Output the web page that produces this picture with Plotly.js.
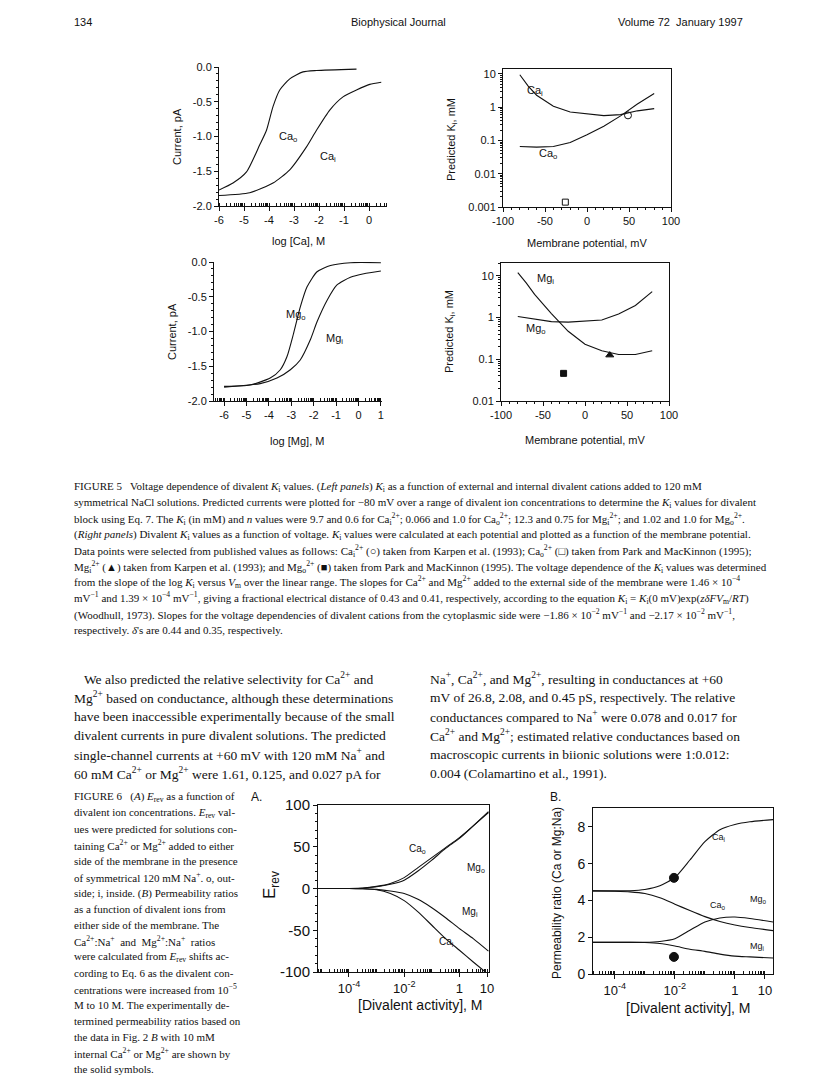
<!DOCTYPE html>
<html>
<head>
<meta charset="utf-8">
<script src="https://cdn.plot.ly/plotly-3.0.1.min.js"></script>
<style>
  html, body { margin: 0; padding: 0; background: #fff; }
  #page { width: 816px; height: 1078px; }
</style>
</head>
<body>
<div id="page"></div>
<script>
// ---- Figure 5, left panels: current vs log concentration ----
const caLogO = [-6, -5.44, -4.9, -4.37, -4.1, -3.84, -3.57, -3.17, -2.64, -2.1, -0.5];
const caCurO = [-1.77, -1.67, -1.51, -1.12, -0.91, -0.57, -0.33, -0.17, -0.07, -0.05, -0.03];
const caLogI = [-6, -4.77, -3.84, -3.17, -2.5, -2.1, -1.57, -1.04, -0.5, 0.03, 0.49];
const caCurI = [-1.85, -1.81, -1.67, -1.48, -1.15, -0.91, -0.62, -0.43, -0.33, -0.25, -0.22];

const mgLogO = [-6, -4.84, -3.94, -3.49, -3.19, -2.9, -2.6, -2.3, -1.85, -1.25, -0.36, 1.0];
const mgCurO = [-1.79, -1.77, -1.67, -1.55, -1.36, -1.03, -0.65, -0.36, -0.14, -0.05, -0.01, -0.01];
const mgLogI = [-6, -4.39, -3.64, -3.04, -2.6, -2.15, -1.85, -1.4, -0.96, -0.36, 0.24, 1.0];
const mgCurI = [-1.8, -1.75, -1.67, -1.55, -1.41, -1.12, -0.86, -0.55, -0.33, -0.22, -0.17, -0.13];

// ---- Figure 5, right panels: predicted Ki vs membrane potential ----
const potential = [-80, -70, -60, -40, -20, 0, 20, 40, 60, 80];
const caKiI = [9.5, 4.3, 2.3, 1.07, 0.72, 0.63, 0.56, 0.6, 0.78, 0.91];
const caKiO = [0.066, 0.064, 0.063, 0.066, 0.087, 0.15, 0.27, 0.55, 1.25, 2.6];
const mgKiI = [12, 6.8, 3.6, 1.25, 0.47, 0.23, 0.16, 0.13, 0.13, 0.16];
const mgKiO = [1.06, 0.98, 0.9, 0.8, 0.78, 0.82, 0.88, 1.22, 1.95, 4.2];
// published points
const caPtIx = [48.8], caPtIy = [0.57];     // open circle
const caPtOx = [-25.8], caPtOy = [0.0014];  // open square
const mgPtIx = [29.5], mgPtIy = [0.126];    // filled triangle
const mgPtOx = [-25.5], mgPtOy = [0.046];   // filled square

// ---- Figure 6A: Erev vs divalent activity (log10 M) ----
const actA = [-5.12, -4, -3.5, -3, -2.5, -2, -1.5, -1, -0.5, 0, 0.5, 1.05];
const erevCaO = [0, 0, 0.5, 2.5, 6, 13, 25, 37, 49, 61, 75, 92];
const erevMgO = [0, 0, 0.3, 2, 5, 10, 21, 34, 48, 60, 75, 91];
const erevMgI = [0, 0, -0.3, -1, -3, -6, -13, -23, -35, -48, -60, -75];
const erevCaI = [0, 0, -0.3, -1.5, -6, -14.5, -28, -44, -60, -74, -88, -103];

// ---- Figure 6B: permeability ratio vs divalent activity (log10 M) ----
const actB = [-4.73, -4, -3.5, -3, -2.5, -2, -1.5, -1, -0.5, 0, 0.5, 1.27];
const prCaI = [4.52, 4.52, 4.53, 4.6, 4.8, 5.25, 6.2, 7.2, 7.85, 8.13, 8.28, 8.4];
const prCaO = [4.52, 4.5, 4.47, 4.38, 4.15, 3.8, 3.45, 3.12, 2.86, 2.67, 2.53, 2.36];
const prMgO = [1.72, 1.72, 1.72, 1.72, 1.77, 1.92, 2.38, 2.83, 3.05, 3.1, 3.02, 2.83];
const prMgI = [1.72, 1.72, 1.72, 1.71, 1.66, 1.52, 1.35, 1.23, 1.08, 0.97, 0.93, 0.87];
const prPtX = [0.0093, 0.0093];
const prPtY = [5.23, 0.93];

// ---- tick labels ----
const logTicks = [1e-6, 1e-5, 1e-4, 1e-3, 1e-2, 1e-1, 1, 10];
const logLabels = ['-6', '-5', '-4', '-3', '-2', '-1', '0', '1'];
const currentTicks = [-2, -1.5, -1, -0.5, 0];
const currentLabels = ['-2.0', '-1.5', '-1.0', '-0.5', '0.0'];
const mvTicks = [-100, -50, 0, 50, 100];
const mvLabels = ['-100', '-50', '0', '50', '100'];
const activityTicks = [1e-4, 1e-2, 1, 10];
const activityLabels = ['10<sup>-4</sup>', '10<sup>-2</sup>', '1', '10'];

// ---- page text ----
const headerLeft = '134';
const headerMid = 'Biophysical Journal';
const headerRight = 'Volume 72  January 1997';

const KI = '<i>K</i><sub>i</sub>';
const fig5Caption = [
  'FIGURE 5   Voltage dependence of divalent ' + KI + ' values. (<i>Left panels</i>) ' + KI + ' as a function of external and internal divalent cations added to 120 mM',
  'symmetrical NaCl solutions. Predicted currents were plotted for −80 mV over a range of divalent ion concentrations to determine the ' + KI + ' values for divalent',
  'block using Eq. 7. The ' + KI + ' (in mM) and <i>n</i> values were 9.7 and 0.6 for Ca<sub>i</sub><sup>2+</sup>; 0.066 and 1.0 for Ca<sub>o</sub><sup>2+</sup>; 12.3 and 0.75 for Mg<sub>i</sub><sup>2+</sup>; and 1.02 and 1.0 for Mg<sub>o</sub><sup>2+</sup>.',
  '(<i>Right panels</i>) Divalent ' + KI + ' values as a function of voltage. ' + KI + ' values were calculated at each potential and plotted as a function of the membrane potential.',
  'Data points were selected from published values as follows: Ca<sub>i</sub><sup>2+</sup> (○) taken from Karpen et al. (1993); Ca<sub>o</sub><sup>2+</sup> (□) taken from Park and MacKinnon (1995);',
  'Mg<sub>i</sub><sup>2+</sup> (▲) taken from Karpen et al. (1993); and Mg<sub>o</sub><sup>2+</sup> (■) taken from Park and MacKinnon (1995). The voltage dependence of the ' + KI + ' values was determined',
  'from the slope of the log ' + KI + ' versus <i>V</i><sub>m</sub> over the linear range. The slopes for Ca<sup>2+</sup> and Mg<sup>2+</sup> added to the external side of the membrane were 1.46 × 10<sup>−4</sup>',
  'mV<sup>−1</sup> and 1.39 × 10<sup>−4</sup> mV<sup>−1</sup>, giving a fractional electrical distance of 0.43 and 0.41, respectively, according to the equation ' + KI + ' = ' + KI + '(0 mV)exp(<i>zδFV</i><sub>m</sub>/<i>RT</i>)',
  '(Woodhull, 1973). Slopes for the voltage dependencies of divalent cations from the cytoplasmic side were −1.86 × 10<sup>−2</sup> mV<sup>−1</sup> and −2.17 × 10<sup>−2</sup> mV<sup>−1</sup>,',
  'respectively. <i>δ</i>\'s are 0.44 and 0.35, respectively.'
];

const bodyLeft = [
  '   We also predicted the relative selectivity for Ca<sup>2+</sup> and',
  'Mg<sup>2+</sup> based on conductance, although these determinations',
  'have been inaccessible experimentally because of the small',
  'divalent currents in pure divalent solutions. The predicted',
  'single-channel currents at +60 mV with 120 mM Na<sup>+</sup> and',
  '60 mM Ca<sup>2+</sup> or Mg<sup>2+</sup> were 1.61, 0.125, and 0.027 pA for'
];
const bodyRight = [
  'Na<sup>+</sup>, Ca<sup>2+</sup>, and Mg<sup>2+</sup>, resulting in conductances at +60',
  'mV of 26.8, 2.08, and 0.45 pS, respectively. The relative',
  'conductances compared to Na<sup>+</sup> were 0.078 and 0.017 for',
  'Ca<sup>2+</sup> and Mg<sup>2+</sup>; estimated relative conductances based on',
  'macroscopic currents in biionic solutions were 1:0.012:',
  '0.004 (Colamartino et al., 1991).'
];

const EREV = '<i>E</i><sub>rev</sub>';
const fig6Caption = [
  'FIGURE 6   (<i>A</i>) ' + EREV + ' as a function of',
  'divalent ion concentrations. ' + EREV + ' val-',
  'ues were predicted for solutions con-',
  'taining Ca<sup>2+</sup> or Mg<sup>2+</sup> added to either',
  'side of the membrane in the presence',
  'of symmetrical 120 mM Na<sup>+</sup>. o, out-',
  'side; i, inside. (<i>B</i>) Permeability ratios',
  'as a function of divalent ions from',
  'either side of the membrane. The',
  'Ca<sup>2+</sup>:Na<sup>+</sup>  and  Mg<sup>2+</sup>:Na<sup>+</sup>  ratios',
  'were calculated from ' + EREV + ' shifts ac-',
  'cording to Eq. 6 as the divalent con-',
  'centrations were increased from 10<sup>−5</sup>',
  'M to 10 M. The experimentally de-',
  'termined permeability ratios based on',
  'the data in Fig. 2 <i>B</i> with 10 mM',
  'internal Ca<sup>2+</sup> or Mg<sup>2+</sup> are shown by',
  'the solid symbols.'
];

// ---- helpers ----
const W = 816, H = 1078;
const SANS = 'Liberation Sans, Arial, sans-serif';
const SERIF = 'Liberation Serif, Times New Roman, serif';
const pow10 = arr => arr.map(v => Math.pow(10, v));
const xd = (a, b) => [a / W, b / W];
const yd = (top, bottom) => [1 - bottom / H, 1 - top / H];

function line(x, y, xa, ya, shape) {
  return { x, y, xaxis: xa, yaxis: ya, type: 'scatter', mode: 'lines',
           line: { color: '#111', width: 1.1, shape: shape || 'spline', smoothing: 0.6 }, hoverinfo: 'skip' };
}
function pts(x, y, xa, ya, symbol, size) {
  return { x, y, xaxis: xa, yaxis: ya, type: 'scatter', mode: 'markers',
           marker: { symbol, size, color: '#111', line: { color: '#111', width: 1 } }, hoverinfo: 'skip' };
}

const traces = [
  line(pow10(caLogO), caCurO, 'x', 'y'),
  line(pow10(caLogI), caCurI, 'x', 'y'),
  line(potential, caKiI, 'x2', 'y2', 'linear'),
  line(potential, caKiO, 'x2', 'y2', 'linear'),
  pts(caPtIx, caPtIy, 'x2', 'y2', 'circle-open', 7),
  pts(caPtOx, caPtOy, 'x2', 'y2', 'square-open', 6),
  line(pow10(mgLogO), mgCurO, 'x3', 'y3'),
  line(pow10(mgLogI), mgCurI, 'x3', 'y3'),
  line(potential, mgKiI, 'x4', 'y4', 'linear'),
  line(potential, mgKiO, 'x4', 'y4', 'linear'),
  pts(mgPtIx, mgPtIy, 'x4', 'y4', 'triangle-up', 7),
  pts(mgPtOx, mgPtOy, 'x4', 'y4', 'square', 6),
  line(pow10(actA), erevCaO, 'x5', 'y5'),
  line(pow10(actA), erevMgO, 'x5', 'y5'),
  line(pow10(actA), erevMgI, 'x5', 'y5'),
  line(pow10(actA), erevCaI, 'x5', 'y5'),
  line(pow10(actB), prCaI, 'x6', 'y6'),
  line(pow10(actB), prCaO, 'x6', 'y6'),
  line(pow10(actB), prMgO, 'x6', 'y6'),
  line(pow10(actB), prMgI, 'x6', 'y6'),
  pts(prPtX, prPtY, 'x6', 'y6', 'circle', 9)
];

const base = (size) => ({
  showline: true, linecolor: '#111', linewidth: 1, showgrid: false, zeroline: false,
  ticks: 'outside', ticklen: 4, tickcolor: '#111', tickwidth: 1,
  tickfont: { family: SANS, size, color: '#111' }, fixedrange: true
});
const minorLog = { ticks: 'inside', ticklen: 3, dtick: 'D1', tickcolor: '#111' };
const minorLin = (d) => ({ ticks: 'outside', ticklen: 2, dtick: d, tickcolor: '#111' });

const layout = {
  width: W, height: H, margin: { l: 0, r: 0, t: 0, b: 0 },
  paper_bgcolor: '#fff', plot_bgcolor: 'rgba(0,0,0,0)', showlegend: false,
  // top-left
  xaxis: Object.assign(base(11), { domain: xd(219, 387), anchor: 'y', type: 'log', range: [-6, 0.72],
    tickmode: 'array', tickvals: logTicks, ticktext: logLabels, minor: minorLog }),
  yaxis: Object.assign(base(11), { domain: yd(67, 206), anchor: 'x', range: [-2, 0],
    tickmode: 'array', tickvals: currentTicks, ticktext: currentLabels, minor: minorLin(0.1) }),
  // top-right
  xaxis2: Object.assign(base(11), { domain: xd(503, 671), anchor: 'y2', range: [-100, 100], mirror: true,
    tickmode: 'array', tickvals: mvTicks, ticktext: mvLabels, minor: minorLin(10) }),
  yaxis2: Object.assign(base(11), { domain: yd(69, 207), anchor: 'x2', type: 'log', range: [-3, 1.15], mirror: true,
    tickmode: 'array', tickvals: [0.001, 0.01, 0.1, 1, 10], ticktext: ['0.001', '0.01', '0.1', '1', '10'],
    minor: minorLin('D1') }),
  // bottom-left
  xaxis3: Object.assign(base(11), { domain: xd(214, 382), anchor: 'y3', type: 'log', range: [-6.45, 1.05],
    tickmode: 'array', tickvals: logTicks, ticktext: logLabels, minor: minorLog }),
  yaxis3: Object.assign(base(11), { domain: yd(262, 401), anchor: 'x3', range: [-2, 0],
    tickmode: 'array', tickvals: currentTicks, ticktext: currentLabels, minor: minorLin(0.1) }),
  // bottom-right
  xaxis4: Object.assign(base(11), { domain: xd(501, 669), anchor: 'y4', range: [-100, 100], mirror: true,
    tickmode: 'array', tickvals: mvTicks, ticktext: mvLabels, minor: minorLin(10) }),
  yaxis4: Object.assign(base(11), { domain: yd(263, 401), anchor: 'x4', type: 'log', range: [-2, 1.31], mirror: true,
    tickmode: 'array', tickvals: [0.01, 0.1, 1, 10], ticktext: ['0.01', '0.1', '1', '10'],
    minor: minorLin('D1') }),
  // Figure 6A
  xaxis5: Object.assign(base(13), { domain: xd(318, 489), anchor: 'y5', type: 'log', range: [-5.12, 1.07], mirror: true,
    tickmode: 'array', tickvals: activityTicks, ticktext: activityLabels, minor: minorLog }),
  yaxis5: Object.assign(base(15), { domain: yd(805, 972), anchor: 'x5', range: [-100, 100], mirror: true,
    tickmode: 'array', tickvals: mvTicks, ticktext: mvLabels, minor: minorLin(10) }),
  // Figure 6B
  xaxis6: Object.assign(base(13), { domain: xd(593, 773), anchor: 'y6', type: 'log', range: [-4.73, 1.27], mirror: true,
    tickmode: 'array', tickvals: activityTicks, ticktext: activityLabels, minor: minorLog }),
  yaxis6: Object.assign(base(14), { domain: yd(808, 974), anchor: 'x6', range: [0, 9.03], dtick: 2, mirror: true })
};

const ann = [];
// curve labels, in axis coordinates (log axes take log10 values)
function lab(text, x, y, xr, yr, size) {
  ann.push({ text, x, y, xref: xr, yref: yr, showarrow: false, xanchor: 'left', yanchor: 'middle',
             font: { family: SANS, size: size || 11, color: '#111' } });
}
lab('Ca<sub>o</sub>', -3.68, -1.0, 'x', 'y');
lab('Ca<sub>i</sub>', -2.04, -1.29, 'x', 'y');
lab('Ca<sub>i</sub>', -74, 0.49, 'x2', 'y2');
lab('Ca<sub>o</sub>', -59.5, -1.41, 'x2', 'y2');
lab('Mg<sub>o</sub>', -3.34, -0.76, 'x3', 'y3');
lab('Mg<sub>i</sub>', -1.54, -1.11, 'x3', 'y3');
lab('Mg<sub>i</sub>', -59.5, 0.93, 'x4', 'y4');
lab('Mg<sub>o</sub>', -72.6, -0.27, 'x4', 'y4');
lab('Ca<sub>o</sub>', -1.9, 47, 'x5', 'y5', 10);
lab('Mg<sub>o</sub>', 0.2, 25, 'x5', 'y5', 10);
lab('Mg<sub>i</sub>', 0.02, -28, 'x5', 'y5', 10);
lab('Ca<sub>i</sub>', -0.81, -64, 'x5', 'y5', 10);
lab('Ca<sub>i</sub>', -0.83, 7.45, 'x6', 'y6', 9);
lab('Ca<sub>o</sub>', -0.9, 3.7, 'x6', 'y6', 9);
lab('Mg<sub>o</sub>', 0.45, 4.08, 'x6', 'y6', 9);
lab('Mg<sub>i</sub>', 0.45, 1.47, 'x6', 'y6', 9);

// page text, placed in page pixels
function txt(text, px, py, opts) {
  const o = opts || {};
  ann.push({ text, x: px / W, y: 1 - py / H, xref: 'paper', yref: 'paper', showarrow: false,
             xanchor: o.anchor || 'left', yanchor: 'middle', textangle: o.angle || 0,
             font: { family: o.family || SANS, size: o.size || 11, color: '#111' } });
}
// axis titles
txt('log [Ca], M', 298, 241, { anchor: 'center' });
txt('Current, pA', 177, 137, { anchor: 'center', angle: -90 });
txt('Membrane potential, mV', 587, 243, { anchor: 'center' });
txt('Predicted K<sub>i</sub>, mM', 452, 140, { anchor: 'center', angle: -90 });
txt('log [Mg], M', 297, 441, { anchor: 'center' });
txt('Current, pA', 172, 332, { anchor: 'center', angle: -90 });
txt('Membrane potential, mV', 585, 440, { anchor: 'center' });
txt('Predicted K<sub>i</sub>, mM', 450, 332, { anchor: 'center', angle: -90 });
txt('E<sub>rev</sub>', 271, 885, { anchor: 'center', angle: -90, size: 17 });
txt('[Divalent activity], M', 420, 1005, { anchor: 'center', size: 14 });
txt('Permeability ratio (Ca or Mg:Na)', 557, 893, { anchor: 'center', angle: -90, size: 12 });
txt('[Divalent activity], M', 688, 1008, { anchor: 'center', size: 14 });
txt('A.', 249, 797, { size: 12 });
txt('B.', 548, 797, { size: 12 });
// header
txt(headerLeft, 72, 22, { size: 11 });
txt(headerMid, 398, 22, { size: 11, anchor: 'center' });
txt(headerRight, 745, 22, { size: 11, anchor: 'right' });
// captions and body
fig5Caption.forEach((s, i) => txt(s, 72, 487 + i * 15.9, { family: SERIF, size: 11 }));
bodyLeft.forEach((s, i) => txt(s, 72, 678 + i * 19, { family: SERIF, size: 13.5 }));
bodyRight.forEach((s, i) => txt(s, 428, 678 + i * 19, { family: SERIF, size: 13.5 }));
fig6Caption.forEach((s, i) => txt(s, 72, 797 + i * 16, { family: SERIF, size: 11 }));

layout.annotations = ann;

Plotly.newPlot('page', traces, layout, { staticPlot: true });
</script>
</body>
</html>
